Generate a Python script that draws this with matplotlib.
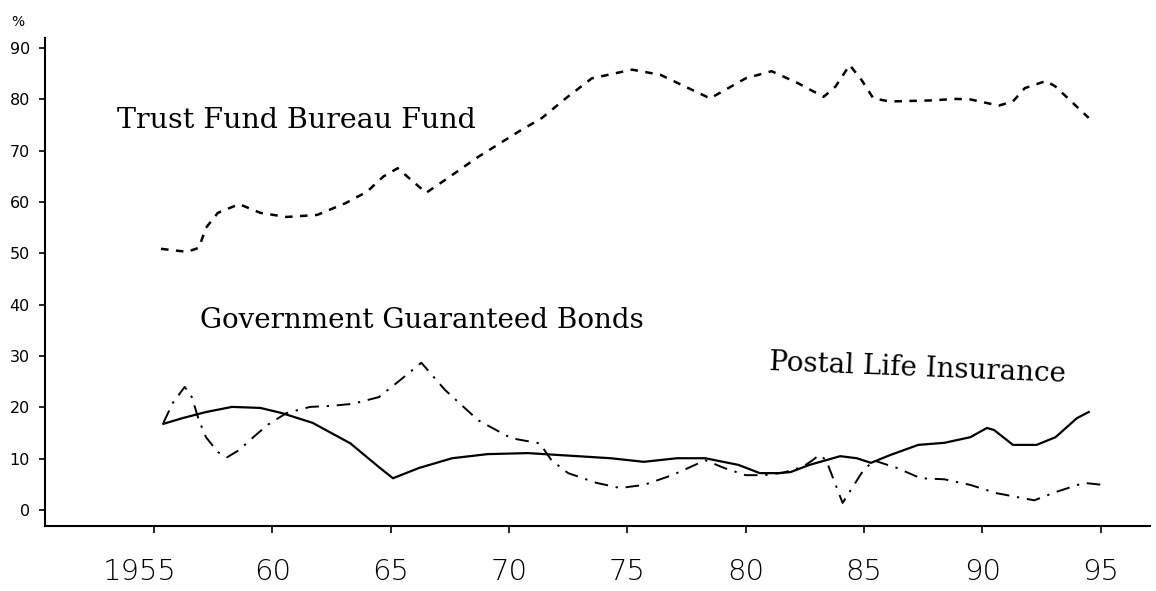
import matplotlib
matplotlib.use("Agg")
import matplotlib.pyplot as plt
import matplotlib.transforms as mtransforms

# Trust Fund Bureau Fund (dashed)
tfb_years = [1955.3, 1956.4, 1956.9, 1957.2, 1957.7, 1958.6, 1959.5, 1960.6, 1961.9,
             1963.1, 1964.0, 1964.7, 1965.3, 1966.5, 1967.3, 1968.7, 1970.4, 1971.4,
             1972.4, 1973.5, 1975.2, 1976.4, 1978.5, 1980.0, 1981.1, 1982.2, 1983.3,
             1983.8, 1984.4, 1984.9, 1985.4, 1986.1, 1987.8, 1988.9, 1989.5, 1990.7,
             1991.3, 1991.8, 1992.7, 1993.1, 1994.5]
tfb_values = [50.9, 50.3, 51.1, 55.0, 57.9, 59.6, 57.9, 57.1, 57.5,
              59.8, 62.0, 65.0, 66.6, 61.8, 64.3, 68.8, 73.7, 76.4,
              80.2, 84.1, 85.8, 84.8, 80.2, 84.1, 85.5, 83.2, 80.5,
              82.5, 86.7, 83.8, 80.2, 79.6, 79.8, 80.1, 80.0, 78.8,
              79.6, 82.2, 83.6, 82.5, 76.4]

# Government Guaranteed Bonds (dash-dot)
ggb_years = [1955.4, 1955.8, 1956.3, 1956.6, 1956.9, 1957.2, 1957.7, 1958.1, 1958.6,
             1959.2, 1959.8, 1960.6, 1961.6, 1962.5, 1963.4, 1964.5, 1965.4, 1966.3,
             1967.3, 1968.7, 1970.1, 1971.3, 1971.8, 1972.5, 1973.7, 1974.7, 1975.7,
             1976.9, 1978.3, 1979.1, 1980.0, 1980.8, 1981.6, 1982.4, 1982.8, 1983.1,
             1983.4, 1984.1, 1984.9, 1985.4, 1986.4, 1987.4, 1988.4, 1989.5, 1990.6,
             1992.2, 1993.1, 1994.3, 1995.1]
ggb_values = [17.0, 20.9, 24.0, 22.0, 17.5, 14.2, 11.3, 10.3, 11.7,
              14.2, 16.6, 18.9, 20.1, 20.3, 20.7, 22.0, 25.3, 28.7,
              23.4, 17.5, 14.0, 13.0, 9.7, 7.2, 5.3, 4.3, 4.9,
              6.8, 9.7, 8.2, 6.8, 6.8, 7.3, 8.4, 9.6, 10.7,
              9.8, 1.4, 7.2, 9.7, 8.2, 6.2, 6.0, 4.9, 3.3,
              1.9, 3.5, 5.3, 4.9]

# Postal Life Insurance (solid)
pli_years = [1955.4, 1956.2, 1957.2, 1958.3, 1959.5, 1960.4, 1961.7, 1963.3, 1964.5,
             1965.1, 1966.2, 1967.6, 1969.1, 1970.8, 1972.9, 1974.3, 1975.7, 1977.1,
             1978.3, 1979.7, 1980.6, 1981.4, 1981.9, 1982.7, 1984.0, 1984.7, 1985.3,
             1986.1, 1987.3, 1988.4, 1989.5, 1990.2, 1990.5, 1991.3, 1992.3, 1993.1,
             1994.0, 1994.5]
pli_values = [16.8, 17.9, 19.1, 20.1, 19.9, 18.9, 17.0, 13.0, 8.4,
              6.2, 8.2, 10.1, 10.9, 11.1, 10.5, 10.1, 9.4, 10.1,
              10.1, 8.8, 7.2, 7.2, 7.4, 8.8, 10.5, 10.1, 9.2,
              10.7, 12.7, 13.1, 14.2, 16.0, 15.6, 12.7, 12.7, 14.2,
              17.9, 19.1]

x_ticks = [1955, 1960, 1965, 1970, 1975, 1980, 1985, 1990, 1995]
x_tick_labels = ["1955", "60", "65", "70", "75", "80", "85", "90", "95"]
y_ticks = [0, 10, 20, 30, 40, 50, 60, 70, 80, 90]
y_tick_labels = ["0", "10", "20", "30", "40", "50", "60", "70", "80", "90"]

fig = plt.figure(figsize=(11.56, 5.91), dpi=100)
ax = fig.add_axes([0.039, 0.110, 0.956, 0.826])

ax.plot(tfb_years, tfb_values, color="black", lw=1.8, linestyle=(0, (3, 3)))
ax.plot(ggb_years, ggb_values, color="black", lw=1.4, linestyle=(0, (7, 4, 1.2, 4)))
ax.plot(pli_years, pli_values, color="black", lw=1.6, linestyle="-")

ax.set_xlim(1950.4, 1997.1)
ax.set_ylim(-3.1, 92)

ax.spines["top"].set_visible(False)
ax.spines["right"].set_visible(False)
ax.spines["left"].set_linewidth(1.5)
ax.spines["bottom"].set_linewidth(1.5)

ax.set_xticks(x_ticks)
ax.set_xticklabels(x_tick_labels, fontsize=21, family="DejaVu Sans", fontweight="light")
ax.set_yticks(y_ticks)
ax.set_yticklabels(y_tick_labels, fontsize=11.5, family="DejaVu Sans")
ax.tick_params(axis="x", direction="out", length=5, width=1.2, pad=18)
ax.tick_params(axis="y", direction="out", length=4, width=1.2, pad=7)

# the first year label sits a little left of its tick in the original
first = ax.get_xticklabels()[0]
first.set_transform(first.get_transform() +
                    mtransforms.ScaledTranslation(-14 / 100, 0, fig.dpi_scale_trans))

serif = "DejaVu Serif"
ax.text(1953.44, 74.5, "Trust Fund Bureau Fund", family=serif, fontsize=20.5,
        ha="left", va="baseline")
ax.text(1956.94, 35.5, "Government Guaranteed Bonds", family=serif, fontsize=20,
        ha="left", va="baseline")
ax.text(1981.0, 27.3, "Postal Life Insurance", family=serif, fontsize=20,
        ha="left", va="baseline", rotation=-2.3, rotation_mode="anchor")

fig.text(18 / 1156, 1 - 22 / 591, "%", fontsize=10, ha="center", va="center")

fig.savefig("out.png", dpi=100, facecolor="white")
